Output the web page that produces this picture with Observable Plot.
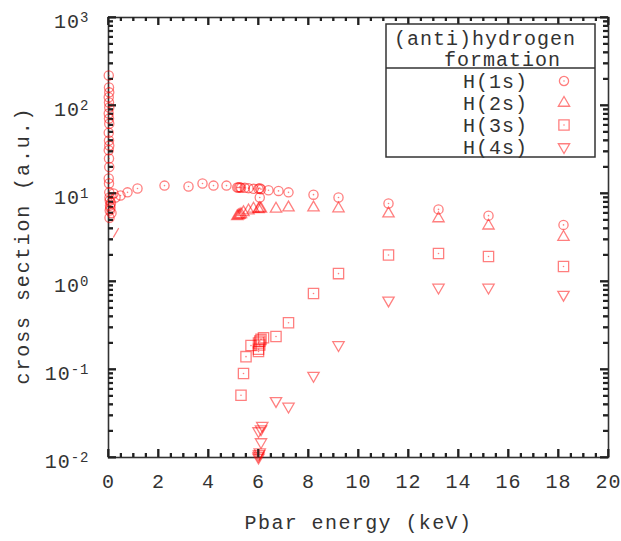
<!DOCTYPE html>
<html><head><meta charset="utf-8">
<script src="https://cdn.jsdelivr.net/npm/d3@7"></script>
<script src="https://cdn.jsdelivr.net/npm/@observablehq/plot@0.6"></script>
<style>body{margin:0;background:#fff}</style>
</head><body><div id="chart"></div>
<script>
// ---- data ----
const seriesNames = ["H(1s)", "H(2s)", "H(3s)", "H(4s)"];
const titleLines = ["(anti)hydrogen", "formation"];

const h1sX = [0.01,0.02,0.03,0.01,0.02,0.03,0.01,0.02,0.03,0.01,0.02,0.03,0.01,0.02,0.03,0.01,0.02,0.03,0.04,0.05,0.06,0.05,0.04,
  0.1,0.08,0.12,0.2,0.28,0.48,0.76,1.16,2.24,3.2,3.76,4.2,4.72,5.15,5.2,5.25,5.3,5.45,5.6,5.8,6.0,6.05,6.1,6.05,6.4,6.8,7.2,8.2,9.2,11.2,13.2,15.2,18.2];
const h1sY = [219,160,141,124,108,95,81,71,62,49,40,35,31,25,20,14.8,13,10.3,9.0,8.3,7.3,6.4,5.3,
  7.8,6.9,6.0,10.0,9.0,9.5,10.3,11.4,12.3,12.0,13.0,12.3,12.3,11.7,11.7,11.8,11.6,11.6,11.5,11.3,11.3,11.5,11.2,9.0,10.9,10.7,10.3,9.7,9.0,7.7,6.6,5.6,4.4];

const h2sX = [5.15,5.2,5.25,5.3,5.4,5.6,5.8,6.0,6.05,6.1,6.7,7.2,8.2,9.2,11.2,13.2,15.2,18.2];
const h2sY = [5.5,5.6,5.7,5.8,6.1,6.4,6.7,6.6,6.8,6.7,6.7,6.9,6.9,6.75,5.9,5.2,4.3,3.2];

const h3sX = [5.3,5.4,5.5,5.7,6.0,6.0,6.05,6.0,6.05,6.1,6.2,6.7,7.2,8.2,9.2,11.2,13.2,15.2,18.2];
const h3sY = [0.051,0.09,0.14,0.187,0.16,0.17,0.19,0.2,0.21,0.22,0.23,0.237,0.34,0.73,1.23,2.0,2.08,1.92,1.48];

const h4sX = [6.0,6.0,6.02,6.05,6.1,6.0,6.1,6.15,6.7,7.2,8.2,9.2,11.2,13.2,15.2,18.2];
const h4sY = [0.0100,0.0105,0.011,0.0115,0.015,0.020,0.021,0.023,0.044,0.038,0.085,0.19,0.61,0.855,0.855,0.71];

const segX = [0.2, 0.4];
const segY = [3.2, 4.0];

const xMajor = [0,2,4,6,8,10,12,14,16,18,20];
const xMinor = [0.5,1,1.5,2.5,3,3.5,4.5,5,5.5,6.5,7,7.5,8.5,9,9.5,10.5,11,11.5,12.5,13,13.5,14.5,15,15.5,16.5,17,17.5,18.5,19,19.5];
const yMajor = [0.01,0.1,1,10,100,1000];
const yMinor = [];
for (const p of [0.01,0.1,1,10,100]) for (let m = 2; m <= 9; m++) yMinor.push(+(m*p).toPrecision(3));

// ---- build ----
const zip = (xs, ys) => xs.map((x, i) => ({x, y: ys[i]}));
const W = 621, H = 541, ML = 108, MR = 13, MT = 17, MB = 84;
const FH = H - MT - MB, FW = W - ML - MR;
const axisColor = "#333333";
const red = "#ff0000";
const op = 0.5;
const symStyle = {stroke: red, strokeOpacity: op, strokeWidth: 1.3, fill: "none"};
const centerDot = (data) => Plot.dot(data, {x: "x", y: "y", r: 0.8, fill: red, fillOpacity: 0.5, stroke: "none"});
const tk = {stroke: "#222222", strokeWidth: 2};

const chart = Plot.plot({
  width: W, height: H,
  marginLeft: ML, marginRight: MR, marginTop: MT, marginBottom: MB,
  style: {fontFamily: "'Liberation Mono', monospace", fontSize: "20px", color: axisColor, background: "#fff", letterSpacing: "1px"},
  x: {domain: [0, 20]},
  y: {type: "log", domain: [0.01, 1000]},
  marks: [
    Plot.frame({fill: "none", stroke: axisColor, strokeWidth: 1.6}),
    // ticks (inward, mirrored on all four sides)
    Plot.ruleX(xMajor, {x: d => d, insetTop: FH - 8, ...tk}),
    Plot.ruleX(xMajor, {x: d => d, insetBottom: FH - 8, ...tk}),
    Plot.ruleX(xMinor, {x: d => d, insetTop: FH - 4, ...tk}),
    Plot.ruleX(xMinor, {x: d => d, insetBottom: FH - 4, ...tk}),
    Plot.ruleY(yMajor, {y: d => d, insetRight: FW - 8, ...tk}),
    Plot.ruleY(yMajor, {y: d => d, insetLeft: FW - 8, ...tk}),
    Plot.ruleY(yMinor, {y: d => d, insetRight: FW - 5, ...tk}),
    Plot.ruleY(yMinor, {y: d => d, insetLeft: FW - 5, ...tk}),
    Plot.axisX({ticks: xMajor, tickSize: 0, tickPadding: 16, label: null, tickFormat: d => String(d)}),
    Plot.axisY({ticks: yMajor, tickSize: 0, tickPadding: 19, dy: 4, label: null,
      tickFormat: d => "10^" + Math.round(Math.log10(d))}),
    Plot.text(["Pbar energy (keV)"], {frameAnchor: "bottom", dy: 65, textAnchor: "middle", lineAnchor: "middle", fill: axisColor}),
    Plot.text(["cross section (a.u.)"], {frameAnchor: "left", dx: -86, dy: 8, rotate: -90, textAnchor: "middle", lineAnchor: "middle", fill: axisColor}),
    // data
    Plot.line(zip(segX, segY), {x: "x", y: "y", stroke: red, strokeOpacity: op, strokeWidth: 1.3}),
    Plot.dot(zip(h1sX, h1sY), {x: "x", y: "y", r: 4.6, symbol: "circle", ...symStyle}),
    centerDot(zip(h1sX, h1sY)),
    Plot.dot(zip(h2sX, h2sY), {x: "x", y: "y", r: 4.2, symbol: "triangle", ...symStyle}),
    Plot.dot(zip(h3sX, h3sY), {x: "x", y: "y", r: 5.8, symbol: "square", ...symStyle}),
    centerDot(zip(h3sX, h3sY)),
    Plot.dot(zip(h4sX, h4sY), {x: "x", y: "y", r: 4.2, symbol: "triangle", rotate: 180, ...symStyle})
  ]
});
document.getElementById("chart").appendChild(chart);

// superscript exponents for y tick labels
const NS = "http://www.w3.org/2000/svg";
chart.querySelectorAll('[aria-label="y-axis tick label"] text').forEach(t => {
  const parts = t.textContent.split("^");
  if (parts.length !== 2) return;
  t.textContent = "";
  const a = document.createElementNS(NS, "tspan"); a.textContent = parts[0];
  const b = document.createElementNS(NS, "tspan"); b.textContent = parts[1];
  b.setAttribute("dy", "-0.45em"); b.setAttribute("font-size", "14px");
  t.appendChild(a); t.appendChild(b);
});
chart.querySelectorAll('text').forEach(t => {
  if (t.textContent === "cross section (a.u.)") t.setAttribute("letter-spacing", "1.9px");
  if (t.textContent === "Pbar energy (keV)") t.setAttribute("letter-spacing", "1.4px");
});

const svg = d3.select(chart);

// inward tick marks on all four sides, placed with Plot's own scales
try {
  const sx = chart.scale("x"), sy = chart.scale("y");
  const tg = svg.append("g").attr("class", "frame-ticks");
  const addLine = (x1, y1, x2, y2) => tg.append("line")
    .attr("x1", x1).attr("y1", y1).attr("x2", x2).attr("y2", y2)
    .attr("style", "stroke:#222;stroke-width:1.5px;stroke-opacity:1");
  const top = MT, bottom = H - MB, left = ML, right = W - MR;
  xMajor.forEach(v => { const p = sx.apply(v); addLine(p, bottom, p, bottom - 8); addLine(p, top, p, top + 8); });
  xMinor.forEach(v => { const p = sx.apply(v); addLine(p, bottom, p, bottom - 4); addLine(p, top, p, top + 4); });
  yMajor.forEach(v => { const p = sy.apply(v); addLine(left, p, left + 8, p); addLine(right, p, right - 8, p); });
  yMinor.forEach(v => { const p = sy.apply(v); addLine(left, p, left + 5, p); addLine(right, p, right - 5, p); });
} catch (e) { console.error(e); }

// legend (key box)
const key = svg.append("g").attr("font-family", "'Liberation Mono', monospace").attr("font-size", 20)
  .attr("fill", axisColor).attr("text-anchor", "start");
key.append("rect").attr("x", 386).attr("y", 24).attr("width", 209).attr("height", 133)
  .attr("fill", "#fff").attr("stroke", axisColor).attr("stroke-width", 1.5);
key.append("line").attr("x1", 386).attr("x2", 595).attr("y1", 68).attr("y2", 68)
  .attr("stroke", axisColor).attr("stroke-width", 1.5);
key.append("text").attr("x", 394).attr("y", 38).attr("dy", "0.35em").attr("text-anchor", "start").text(titleLines[0]);
key.append("text").attr("x", 444).attr("y", 59).attr("dy", "0.35em").attr("text-anchor", "start").text(titleLines[1]);
const syms = [
  {sym: d3.symbolCircle, r: 4.6, rot: 0},
  {sym: d3.symbolTriangle, r: 4.2, rot: 0},
  {sym: d3.symbolSquare, r: 5.8, rot: 0},
  {sym: d3.symbolTriangle, r: 4.2, rot: 180}
];
seriesNames.forEach((name, i) => {
  const cy = 81 + i * 22;
  key.append("text").attr("x", 528).attr("y", cy).attr("dy", "0.35em").attr("text-anchor", "end").text(name);
  key.append("path").attr("d", d3.symbol(syms[i].sym, Math.PI * syms[i].r * syms[i].r)())
    .attr("transform", `translate(564,${cy}) rotate(${syms[i].rot})`)
    .attr("fill", "none").attr("stroke", red).attr("stroke-opacity", op).attr("stroke-width", 1.3);
  if (i === 0 || i === 2) key.append("circle").attr("cx", 564).attr("cy", cy).attr("r", 0.8).attr("fill", red).attr("fill-opacity", 0.5);
});
</script>
</body></html>
